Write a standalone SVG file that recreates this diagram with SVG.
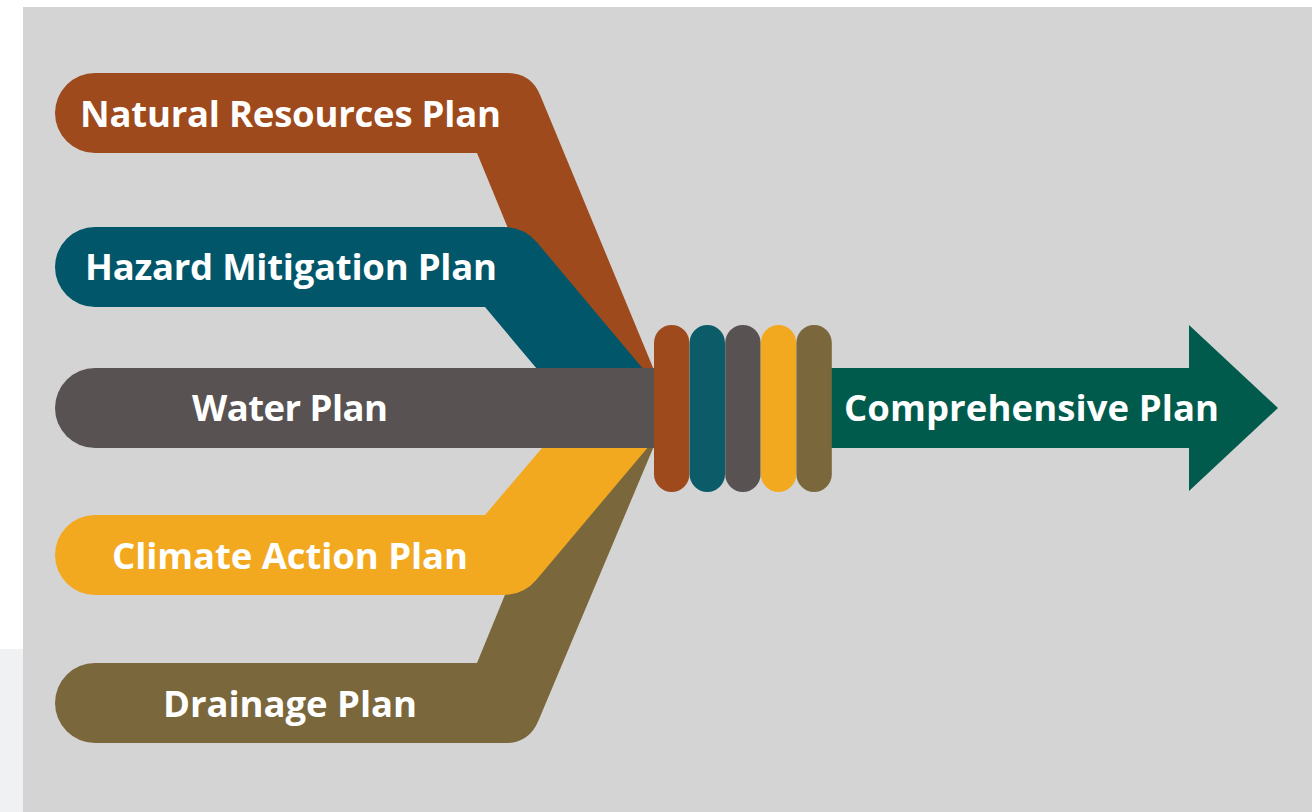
<svg xmlns="http://www.w3.org/2000/svg" width="1312" height="812" viewBox="0 0 1312 812">
<style>
.lbl{font-family:"Open Sans","Liberation Sans",sans-serif;font-weight:700;font-size:36.5px;fill:#ffffff;text-anchor:middle}
.brown{fill:#9e4a1c}.teal{fill:#02566a}.tealb{fill:#0b5b69}.gray{fill:#585352}.yellow{fill:#f2a920}.olive{fill:#7a673c}.green{fill:#005b4c}
</style>
<rect x="0" y="0" width="1312" height="812" fill="#ffffff"/>
<rect x="0" y="649" width="23" height="163" fill="#f0f1f3"/>
<rect x="23" y="7" width="1289" height="805" fill="#d4d4d4"/>
<g id="connectors">
<path class="brown" d="M95,73 H507 Q531,73 540.2,95.2 L654,370 L566.2,370 L477,153 H95 A40,40 0 0 1 95,73 Z"/>
<path class="teal" d="M95,227 H504 Q524,227 536.9,242.3 L644,370 L537.9,370 L485,307 H95 A40,40 0 0 1 95,227 Z"/>
<path class="olive" d="M95,663 H477 L566,446 L654,446 L538.3,720.9 Q529,743 505,743 H95 A40,40 0 0 1 95,663 Z"/>
<path class="yellow" d="M95,515 H485 L543.7,446 L649,446 L536.4,579.7 Q523.5,595 503.5,595 H95 A40,40 0 0 1 95,515 Z"/>
</g>
<g id="natural">
<text class="lbl" x="290.5" y="127" textLength="421">Natural Resources Plan</text>
</g>
<g id="hazard">
<text class="lbl" x="291" y="280" textLength="412">Hazard Mitigation Plan</text>
</g>
<g id="climate">
<text class="lbl" x="290" y="568.5" textLength="356">Climate Action Plan</text>
</g>
<g id="drainage">
<text class="lbl" x="290" y="716.5" textLength="254">Drainage Plan</text>
</g>
<g id="water">
<path class="gray" d="M95,368 H655 V448 H95 A40,40 0 0 1 95,368 Z"/>
<text class="lbl" x="290" y="421" textLength="196">Water Plan</text>
</g>
<g id="comprehensive">
<polygon class="green" points="820,368 1189,368 1189,325 1278,408 1189,491 1189,448 820,448"/>
<text class="lbl" x="1031.5" y="421" textLength="375">Comprehensive Plan</text>
</g>
<g id="bundle">
<rect class="brown" x="654" y="325" width="35.4" height="167" rx="17.7"/>
<rect class="tealb" x="689.6" y="325" width="35.4" height="167" rx="17.7"/>
<rect class="gray" x="725.2" y="325" width="35.4" height="167" rx="17.7"/>
<rect class="yellow" x="760.8" y="325" width="35.4" height="167" rx="17.7"/>
<rect class="olive" x="796.4" y="325" width="35.4" height="167" rx="17.7"/>
</g>
</svg>
